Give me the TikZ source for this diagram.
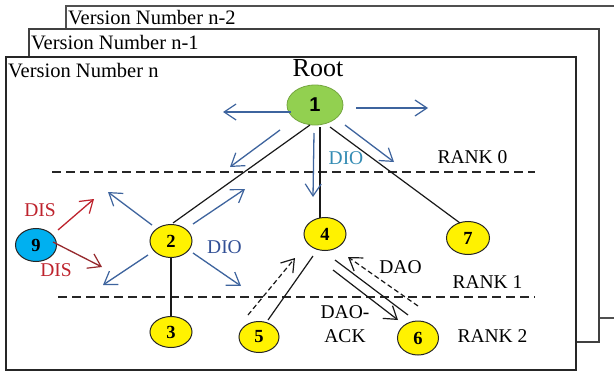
\documentclass[tikz,border=0pt]{standalone}
\usepackage{fontspec}
\setmainfont{Liberation Serif}
\newfontfamily\arialfont{Liberation Sans}
\usetikzlibrary{arrows.meta,shapes.geometric}
\definecolor{arrblue}{RGB}{62,100,158}
\definecolor{dioteal}{RGB}{52,140,180}
\definecolor{dioblue}{RGB}{50,80,150}
\definecolor{disred}{RGB}{190,35,45}
\definecolor{disdark}{RGB}{150,40,45}
\definecolor{nodegreen}{RGB}{146,208,80}
\definecolor{nodeblue}{RGB}{0,176,240}
\definecolor{framegray}{RGB}{80,80,80}
\begin{document}
\begin{tikzpicture}[x=1pt,y=-1pt,
  tnode/.style={ellipse,draw=black!85,line width=1pt,inner sep=0pt,
    font=\fontsize{18.5}{18.5}\selectfont\bfseries},
  vlabel/.style={anchor=base west,inner sep=0pt,font=\fontsize{20.5}{21}\selectfont},
  lbl/.style={inner sep=0pt,font=\fontsize{19.5}{20}\selectfont},
  tree/.style={draw=black!90,line width=1.2pt},
  rankline/.style={draw=black!85,line width=1.1pt,dash pattern=on 9pt off 5pt},
  barb/.style={-{Straight Barb[length=12pt,width=16pt,line width=1.2pt]}},
  bluearrow/.style={barb,draw=arrblue,line width=1.3pt},
  redarrow/.style={barb,line width=1.3pt},
  blackarrow/.style={barb,draw=black!90,line width=1.2pt},
  dasharrow/.style={blackarrow,dash pattern=on 5pt off 3pt}
]
\useasboundingbox (0,0) rectangle (614,372);
% stacked frames
\fill[white] (66,6) rectangle (614,318);
\draw[draw=framegray,line width=1.8pt] (614,6) -- (66,6) -- (66,318) -- (614,318);
\filldraw[fill=white,draw=framegray!80!black,line width=1.5pt] (29,29) rectangle (599,342);
\filldraw[fill=white,draw=black!85,line width=1.3pt] (6,57) rectangle (576,370);
\node[vlabel] (v2) at (68,24) {Version Number n-2};
\node[vlabel] (v1) at (31,49) {Version Number n-1};
\node[vlabel] (v0) at (8,77) {Version Number n};

% rank lines
\draw[rankline] (52,172) -- (535,172);
\draw[rankline] (58,297) -- (535,297);

% nodes
\node[tnode,fill=nodegreen,draw=nodegreen!80!black,line width=0.8pt,
  minimum width=56pt,minimum height=40pt,
  font=\fontsize{20}{20}\selectfont\arialfont\bfseries] (n1) at (315,105) {1};
\node[tnode,fill=yellow,minimum width=42pt,minimum height=33pt] (n2) at (171,241) {2};
\node[tnode,fill=yellow,minimum width=42pt,minimum height=31pt] (n3) at (171,332) {3};
\node[tnode,fill=yellow,minimum width=42pt,minimum height=33pt] (n4) at (325,234) {4};
\node[tnode,fill=yellow,minimum width=40pt,minimum height=31pt] (n5) at (259,337) {5};
\node[tnode,fill=yellow,minimum width=41pt,minimum height=34pt] (n6) at (418,338) {6};
\node[tnode,fill=yellow,minimum width=43pt,minimum height=33pt] (n7) at (468,238) {7};
\node[tnode,fill=nodeblue,minimum width=41pt,minimum height=33pt] (n9) at (36,245) {9};

% labels
\node[inner sep=0pt,font=\fontsize{26}{26}\selectfont] (root) at (318,68) {Root};
\node[lbl] (r0) at (472.5,157.5) {RANK 0};
\node[lbl] (r1) at (487.5,282) {RANK 1};
\node[lbl] (r2) at (492.5,336.5) {RANK 2};
\node[lbl] (dao) at (400.5,267.5) {DAO};
\node[lbl] (daoa) at (345,312.5) {DAO-};
\node[lbl] (daob) at (345,336) {ACK};
\node[lbl,text=dioteal] (dio1) at (346,158.5) {DIO};
\node[lbl,text=dioblue] (dio2) at (224.5,247) {DIO};
\node[lbl,text=disred] (dis1) at (40,210) {DIS};
\node[lbl,text=disred] (dis2) at (56,270) {DIS};

% tree connectors
\draw[tree] ([shift={(-5,20)}]n1.center) -- ([shift={(2,-18)}]n2.center);
\draw[tree] ([shift={(5,22)}]n1.center) -- ([shift={(-5,-16)}]n4.center);
\draw[tree] ([shift={(15,22)}]n1.center) -- ([shift={(-8,-15)}]n7.center);
\draw[tree] (n2.south) -- (n3.north);
\draw[tree] ([shift={(-12,22)}]n4.center) -- ([shift={(9,-17)}]n5.center);
\draw[tree] ([shift={(10,26)}]n4.center) -- ([shift={(-10,-23)}]n6.center);

% DIO broadcasts from root
\draw[bluearrow] ([shift={(-24,7)}]n1.center) -- ([shift={(-92,7)}]n1.center);
\draw[bluearrow] ([shift={(41,3)}]n1.center) -- ([shift={(113,3)}]n1.center);
\draw[bluearrow] ([shift={(-35,25)}]n1.center) -- ([shift={(-85,62)}]n1.center);
\draw[bluearrow] ([shift={(-1,28)}]n1.center) -- ([shift={(-2,92)}]n1.center);
\draw[bluearrow] ([shift={(30,20)}]n1.center) -- ([shift={(79,57)}]n1.center);
% DIO broadcasts from node 2
\draw[bluearrow] ([shift={(-19,-16)}]n2.center) -- ([shift={(-63,-49)}]n2.center);
\draw[bluearrow] ([shift={(22,-17)}]n2.center) -- ([shift={(74,-52)}]n2.center);
\draw[bluearrow] ([shift={(-23,14)}]n2.center) -- ([shift={(-68,44)}]n2.center);
\draw[bluearrow] ([shift={(22,12)}]n2.center) -- ([shift={(70,45)}]n2.center);
% DIS from node 9
\draw[redarrow,draw=disred] ([shift={(22,-15)}]n9.center) -- ([shift={(58,-46)}]n9.center);
\draw[redarrow,draw=disdark] ([shift={(17,-3)}]n9.center) -- ([shift={(66,22)}]n9.center);

% DAO / DAO-ACK
\draw[dasharrow] ([shift={(-11,-22)}]n5.center) -- ([shift={(-30,24)}]n4.center);
\draw[blackarrow] ([shift={(8,36)}]n4.center) -- ([shift={(-20,-18)}]n6.center);
\draw[dasharrow] ([shift={(0,-32)}]n6.center) -- ([shift={(23,23)}]n4.center);
\end{tikzpicture}
\end{document}
